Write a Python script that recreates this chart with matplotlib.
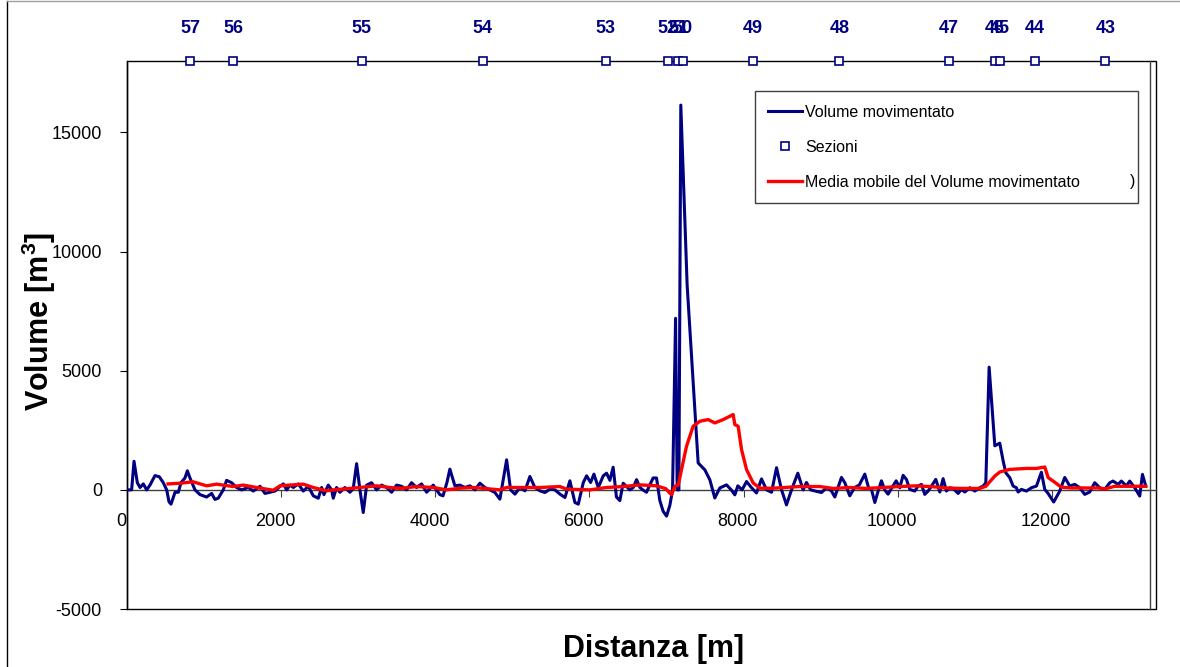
import matplotlib
matplotlib.use('Agg')
import matplotlib.pyplot as plt
import matplotlib.transforms as mtransforms
from matplotlib.lines import Line2D
from matplotlib.patches import Rectangle

plt.rcParams['font.family'] = ['Liberation Sans', 'DejaVu Sans']
plt.rcParams['mathtext.fontset'] = 'custom'
plt.rcParams['mathtext.rm'] = 'Liberation Sans'
plt.rcParams['mathtext.bf'] = 'Liberation Sans:bold'
plt.rcParams['axes.unicode_minus'] = False

# ---- data ----
dist = [0, 60, 91, 134, 169, 212, 255, 298, 363, 419, 471, 515, 545, 571, 623, 666, 700, 752, 783, 817,
        882, 947, 1033, 1098, 1141, 1184, 1249, 1292, 1357, 1422, 1487, 1573, 1638, 1725, 1790, 1855,
        1920, 1985, 2028, 2071, 2114, 2158, 2222, 2287, 2352, 2417, 2482, 2525, 2555, 2611, 2654, 2676,
        2719, 2762, 2827, 2892, 2935, 2979, 3022, 3065, 3109, 3173, 3238, 3303, 3368, 3433, 3497, 3562,
        3627, 3692, 3757, 3822, 3887, 3973, 4059, 4100, 4150, 4189, 4254, 4319, 4384, 4449, 4514, 4578,
        4643, 4708, 4773, 4838, 4925, 4977, 5033, 5098, 5163, 5227, 5292, 5357, 5422, 5487, 5552, 5617,
        5682, 5746, 5811, 5855, 5920, 5963, 6015, 6058, 6114, 6179, 6222, 6265, 6307, 6350, 6394, 6437,
        6524, 6568, 6611, 6655, 6693, 6740, 6783, 6826, 6870, 6913, 6956, 7000, 7043, 7078, 7117, 7138,
        7160, 7185, 7267, 7410, 7497, 7562, 7626, 7691, 7778, 7840, 7886, 7925, 7980, 8038, 8100, 8167,
        8232, 8297, 8362, 8427, 8492, 8556, 8621, 8703, 8772, 8815, 8870, 8930, 9010, 9080, 9140, 9183,
        9269, 9313, 9377, 9440, 9500, 9572, 9620, 9660, 9702, 9745, 9788, 9830, 9874, 9925, 9979, 10026,
        10069, 10112, 10156, 10220, 10264, 10307, 10350, 10393, 10437, 10493, 10545, 10588, 10631, 10674,
        10718, 10783, 10826, 10869, 10934, 10999, 11064, 11107, 11142, 11185, 11259, 11323, 11367, 11401,
        11453, 11496, 11539, 11561, 11604, 11669, 11734, 11799, 11863, 11907, 11950, 12023, 12101, 12166,
        12231, 12296, 12361, 12425, 12490, 12555, 12620, 12685, 12750, 12793, 12858, 12901, 12966, 13009,
        13074, 13139, 13174, 13217]
volume = [0, 0, 1200, 300, 100, 250, 0, 200, 600, 550, 300, 0, -500, -600, -100, -100, 300, 500, 800, 500,
          0, -200, -300, -150, -400, -350, 0, 400, 300, 100, 0, 100, -50, 150, -150, -100,
          -50, 150, 250, 0, 200, 100, 250, -50, 150, -250, -350, 100, -200, 200, 0, -350,
          100, -100, 100, -100, 50, 1100, 0, -950, 200, 300, 0, 200, 100, -100, 200, 150,
          0, 300, 100, 250, -100, 200, -200, -250, 300, 870, 170, 200, 100, 170, 0, 280,
          100, 0, -110, -390, 1260, 0, -180, 100, -40, 560, 100, -40, -110, 30, 0, -180,
          -320, 380, -530, -600, 310, 590, 310, 660, 100, 590, 700, 400, 950, -300, -450, 280,
          0, 100, 430, 100, 0, -100, 210, 500, 500, -450, -900, -1100, -650, 0, 7200, 0,
          0, 16150, 8600, 1130, 840, 420, -340, 80, 210, 0, -210, 170, 0, 350, 100, -130,
          460, 0, -100, 930, 0, -630, 0, 700, 0, 310, 0, -50, -110, 100, -50, -300,
          520, 300, -250, 100, 200, 660, 100, 0, -530, -50, 380, 0, -180, 100, 380, 90,
          610, 440, 20, -50, 160, 230, -190, -50, 160, 440, -90, 470, -50, 90,
          60, -150, 20, -90, 90, -50, 90, 160, 300, 5150, 1850, 1960, 1215, 720,
          510, 160, 90, -90, 20, -50, 90, 160, 740, 20, -150, -510, -50, 520,
          160, 230, 90, -190, -90, 300, 90, 20, 300, 370, 230, 370, 160, 370,
          90, -260, 650, 160]

ma_dist = [533, 700, 856, 1033, 1163, 1379, 1509, 1682, 1812, 1898, 1985, 2158, 2287, 2417, 2590, 2676,
           2892, 3109, 3238, 3411, 3541, 3757, 3973, 4146, 4319, 4492, 4838, 4925, 5357, 5616, 5703,
           6005, 6222, 6438, 6654, 6870, 6990, 7043, 7065, 7108, 7151, 7194, 7259, 7345, 7432, 7540,
           7626, 7734, 7864, 7886, 7929, 7973, 8038, 8124, 8210, 8383, 8729, 8988, 9161, 9377, 9594,
           10026, 10243, 10459, 10675, 10891, 11064, 11142, 11259, 11323, 11453, 11669, 11799, 11907,
           11950, 12036, 12123, 12253, 12600, 12685, 12815, 13217]
ma_volume = [250, 280, 340, 170, 240, 140, 200, 100, 30, -15, 170, 210, 240, 100, -40, 0,
             60, 130, 170, 100, 60, 140, 100, 0, 70, 100, 0, 100, 100, 140, 30,
             0, 100, 140, 210, 170, 50, -140, -200, 150, 200, 850, 1830, 2670, 2880, 2950,
             2810, 2950, 3160, 2740, 2670, 1690, 850, 290, 70, 70, 140, 140, 60, 100, 60,
             140, 170, 130, 70, 60, 60, 150, 580, 750, 860, 900, 900, 960,
             520, 320, 110, 80, 80, 40, 150, 150]

section_dist = [817, 1375, 3048, 4617, 6213, 7017, 7152, 7211, 8119, 9243, 10661, 11264, 11323, 11783, 12694]
section_labels = ['57', '56', '55', '54', '53', '52', '51', '50', '49', '48', '47', '46', '45', '44', '43']

x_ticks = [0, 2000, 4000, 6000, 8000, 10000, 12000]
y_ticks = [-5000, 0, 5000, 10000, 15000]

NAVY = '#000080'
RED = '#FF0000'

fig = plt.figure(figsize=(11.8, 6.67), dpi=100)
ax = fig.add_axes([127/1180, 1 - 609/667, (1156-127)/1180, (609-61)/667])
ax.set_xlim(0, 13350)
ax.set_ylim(-5000, 18000)

ax.plot(dist, volume, color=NAVY, lw=2.2, label='Volume movimentato', zorder=3, solid_joinstyle='round')
ytop = ax.get_ylim()[1]
ax.plot(section_dist, [ytop]*len(section_dist), ls='none', marker='s', ms=6, mfc='white',
        mec=NAVY, mew=1.2, clip_on=False, label='Sezioni', zorder=6)
ax.plot(ma_dist, ma_volume, color=RED, lw=2.4, label='Media mobile del Volume movimentato', zorder=4)

for x, lab in zip(section_dist, section_labels):
    ax.annotate(lab, xy=(x, 1), xycoords=('data', 'axes fraction'), xytext=(0, 23.5),
                textcoords='offset points', ha='center', va='center', fontsize=13,
                fontweight='bold', color=NAVY, annotation_clip=False)

# axes styling
ax.set_xticks(x_ticks)
ax.set_yticks(y_ticks)
for s in ['top', 'right']:
    ax.spines[s].set_visible(False)
ax.spines['bottom'].set_position(('data', 0))
ax.spines['bottom'].set_color('#404040')
ax.spines['bottom'].set_linewidth(1)
ax.spines['left'].set_linewidth(1)
ax.add_patch(Rectangle((0, 0), 1, 1, transform=ax.transAxes, fill=False, ec='black', lw=1,
                       clip_on=False, zorder=1))
ax.add_line(Line2D([1 - 6/1029, 1 - 6/1029], [0, 1], transform=ax.transAxes, color='#404040', lw=1,
                   clip_on=False))
ax.tick_params(axis='x', direction='out', length=5, pad=12, labelsize=13, color='#404040')
ax.tick_params(axis='y', direction='out', length=5, pad=13, labelsize=13)
offset = mtransforms.ScaledTranslation(-6/100, 0, fig.dpi_scale_trans)
for lab in ax.get_xticklabels():
    lab.set_transform(lab.get_transform() + offset)

ax.set_ylabel('Volume [m$^{\\mathbf{3}}$]', fontsize=22, fontweight='bold')
ax.yaxis.set_label_coords(-0.0670, 0.5255)
ax.set_xlabel('Distanza [m]', fontsize=22, fontweight='bold')
ax.xaxis.set_label_coords(0.512, -0.0456)

leg = ax.legend(loc='upper left', bbox_to_anchor=(0.610, 0.748, 0.3725, 0.197), mode='expand',
                borderaxespad=0, fontsize=11.5, handlelength=2.1, handletextpad=0.2,
                labelspacing=1.25, frameon=True, fancybox=False, edgecolor='#404040',
                framealpha=1, borderpad=0.85)
leg.get_frame().set_linewidth(1)
ax.text((1133-127)/1029, 1 - (182-61)/548, ')', transform=ax.transAxes, fontsize=11.5,
        ha='center', va='center', zorder=10)

# chart border
fig.add_artist(Line2D([7/1180, 7/1180], [0, 1 - 1/667], transform=fig.transFigure, color='black', lw=1))
fig.add_artist(Line2D([7/1180, 1], [1 - 1/667, 1 - 1/667], transform=fig.transFigure, color='#a0a0a0', lw=1))

fig.savefig('out.png', dpi=100, facecolor='white')
